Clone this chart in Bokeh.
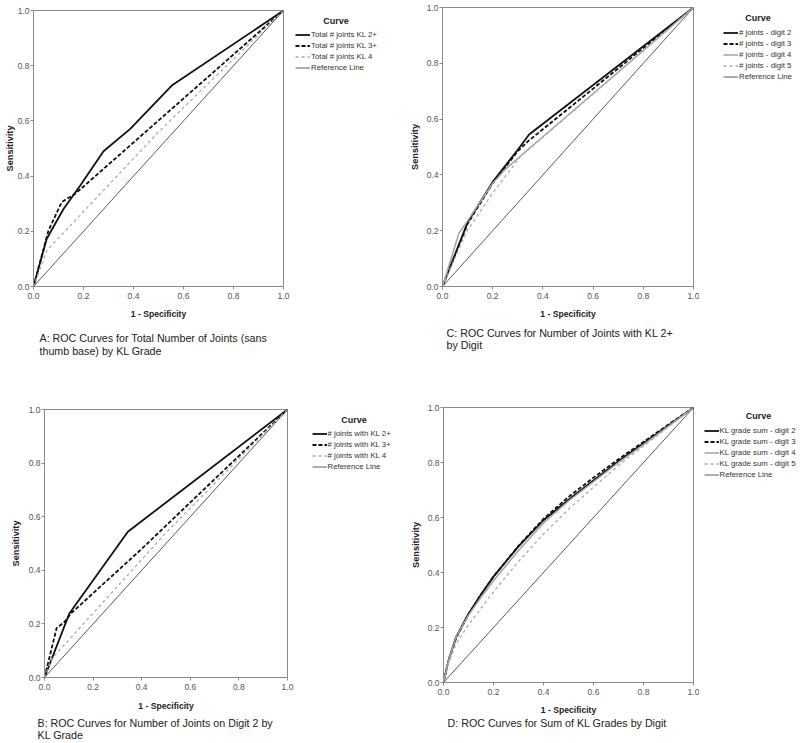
from bokeh.plotting import figure
from bokeh.models import Range1d, Legend, LegendItem, FixedTicker, PrintfTickFormatter, Label
from bokeh.layouts import row, column
from bokeh.embed import file_html
from bokeh.resources import INLINE

FONT = "Liberation Sans"

# ---------------- data ----------------
ticks = [0.0, 0.2, 0.4, 0.6, 0.8, 1.0]
ref_x = [0.0, 1.0]
ref_y = [0.0, 1.0]

# Panel A: total number of joints (sans thumb base) by KL grade
a_kl2_x = [0, 0.053, 0.12, 0.187, 0.28, 0.387, 0.553, 1]
a_kl2_y = [0, 0.173, 0.281, 0.366, 0.49, 0.571, 0.728, 1]
a_kl3_x = [0, 0.06, 0.113, 0.167, 1]
a_kl3_y = [0, 0.203, 0.306, 0.336, 1]
a_kl4_x = [0, 0.053, 0.5, 1]
a_kl4_y = [0, 0.13, 0.56, 1]
a_labels = ["Total # joints KL 2+", "Total # joints KL 3+", "Total # joints KL 4", "Reference Line"]

# Panel C: number of joints with KL 2+ by digit
c_d2_x = [0, 0.1, 0.2, 0.3, 0.345, 1]
c_d2_y = [0, 0.23, 0.375, 0.49, 0.545, 1]
c_d3_x = [0, 0.1, 0.2, 0.3, 0.34, 1]
c_d3_y = [0, 0.225, 0.37, 0.485, 0.52, 1]
c_d4_x = [0, 0.065, 0.1, 0.2, 0.25, 0.32, 1]
c_d4_y = [0, 0.19, 0.235, 0.37, 0.42, 0.475, 1]
c_d5_x = [0, 0.095, 0.2, 0.31, 1]
c_d5_y = [0, 0.195, 0.335, 0.465, 1]
c_labels = ["# joints - digit 2", "# joints - digit 3", "# joints - digit 4", "# joints - digit 5", "Reference Line"]

# Panel B: number of joints on digit 2 by KL grade
b_kl2_x = [0, 0.103, 0.343, 1]
b_kl2_y = [0, 0.24, 0.544, 1]
b_kl3_x = [0, 0.05, 0.08, 0.11, 0.4, 1]
b_kl3_y = [0, 0.185, 0.205, 0.24, 0.48, 1]
b_kl4_x = [0, 0.03, 0.5, 1]
b_kl4_y = [0, 0.07, 0.54, 1]
b_labels = ["# joints with KL 2+", "# joints with KL 3+", "# joints with KL 4", "Reference Line"]

# Panel D: sum of KL grades by digit
d_x = [0, 0.02, 0.05, 0.1, 0.15, 0.2, 0.3, 0.4, 0.5, 0.6, 0.7, 0.8, 0.9, 1]
d_d2_y = [0, 0.08, 0.165, 0.25, 0.32, 0.385, 0.495, 0.59, 0.665, 0.735, 0.805, 0.87, 0.935, 1]
d_d3_y = [0, 0.08, 0.16, 0.248, 0.32, 0.385, 0.497, 0.595, 0.675, 0.745, 0.812, 0.875, 0.938, 1]
d_d4_y = [0, 0.08, 0.165, 0.245, 0.31, 0.37, 0.48, 0.58, 0.66, 0.73, 0.8, 0.865, 0.932, 1]
d_d5_y = [0, 0.07, 0.14, 0.21, 0.27, 0.33, 0.44, 0.54, 0.63, 0.71, 0.79, 0.86, 0.93, 1]
d_labels = ["KL grade sum - digit 2", "KL grade sum - digit 3", "KL grade sum - digit 4", "KL grade sum - digit 5", "Reference Line"]

captions = {
    "A": ["A: ROC Curves for Total Number of Joints (sans", "thumb base) by KL Grade"],
    "C": ["C:  ROC Curves for Number of Joints with KL 2+", "by Digit"],
    "B": ["B: ROC Curves for Number of Joints on Digit 2 by", "KL Grade"],
    "D": ["D:  ROC Curves for Sum of KL Grades by Digit"],
}

# ---------------- styles ----------------
STY = {
    "black": dict(line_color="#111111", line_width=1.8),
    "black_dash": dict(line_color="#111111", line_width=1.8, line_dash="4 2"),
    "gray": dict(line_color="#a2a2a2", line_width=1.5),
    "gray_dash": dict(line_color="#ababab", line_width=1.3, line_dash="3 3"),
    "ref": dict(line_color="#5a5a5a", line_width=1.0),
}


def bare(w, h, top=0, bottom=0, xr=None, yr=None):
    f = figure(width=w, height=h, x_range=xr, y_range=yr,
               min_border_left=0, min_border_right=0,
               min_border_top=top, min_border_bottom=bottom,
               x_axis_location=None, y_axis_location=None,
               title=None, tools="", toolbar_location=None, output_backend="svg")
    f.grid.visible = False
    f.outline_line_color = None
    f.background_fill_color = "white"
    f.border_fill_color = "white"
    return f


def make_panel(P, Lw, series, labels, xlab_s, ylab_s, leg, cap):
    pw = P["left"] + P["fw"] + P["right"]
    ph = P["top"] + P["fh"] + P["bottom"]
    p = figure(width=pw, height=ph, x_range=Range1d(0, 1), y_range=Range1d(0, 1),
               min_border_left=P["left"], min_border_right=P["right"],
               min_border_top=P["top"], min_border_bottom=P["bottom"],
               title=None, tools="", toolbar_location=None, output_backend="svg")
    p.xgrid.visible = False
    p.ygrid.visible = False
    p.outline_line_color = "#8a8a8a"
    p.background_fill_color = "white"
    p.border_fill_color = "white"
    for ax in (p.xaxis[0], p.yaxis[0]):
        ax.ticker = FixedTicker(ticks=ticks)
        ax.formatter = PrintfTickFormatter(format="%.1f")
        ax.axis_line_color = "#8a8a8a"
        ax.major_tick_line_color = "#8a8a8a"
        ax.major_tick_out = 3
        ax.major_tick_in = 0
        ax.minor_tick_line_color = None
        ax.major_label_text_font = FONT
        ax.major_label_text_font_size = "8.5px"
        ax.major_label_text_color = "#555555"
        ax.axis_label_text_font = FONT
        ax.axis_label_text_font_style = "bold"
        ax.axis_label_text_color = "#222222"
    p.xaxis[0].major_label_standoff = 3
    p.yaxis[0].major_label_standoff = 1
    p.xaxis[0].axis_label = "1 - Specificity"
    p.xaxis[0].axis_label_text_font_size = "8.6px"
    p.xaxis[0].axis_label_standoff = xlab_s
    p.yaxis[0].axis_label = "Sensitivity"
    p.yaxis[0].axis_label_text_font_size = "9.2px"
    p.yaxis[0].axis_label_standoff = ylab_s

    p.line(ref_x, ref_y, **STY["ref"])
    for (xs, ys, sty) in series:
        p.line(xs, ys, **STY[sty])

    # ---- legend panel to the right: its frame has the same top/bottom as the plot ----
    fb_local = P["top"] + P["fh"]
    L = bare(Lw, ph, top=P["top"], bottom=P["bottom"],
             xr=Range1d(0, Lw), yr=Range1d(fb_local, P["top"]))
    items = []
    for (xs, ys, sty), lab in zip(series + [(ref_x, ref_y, "ref")], labels):
        r = L.line(xs, ys, visible=False, **STY[sty])
        items.append(LegendItem(label=lab, renderers=[r]))
    n = len(items)
    row_h = 11
    leg_bottom = leg["first"] - row_h / 2 + n * row_h
    legend = Legend(items=items, location=(leg["left"], fb_local - leg_bottom),
                    glyph_width=15, glyph_height=row_h, label_height=row_h,
                    label_standoff=1, spacing=0, padding=0, margin=0,
                    border_line_color=None, background_fill_alpha=0,
                    inactive_fill_alpha=0,
                    label_text_font=FONT, label_text_font_size="7.8px",
                    label_text_color="#333333")
    L.add_layout(legend)
    L.add_layout(Label(x=leg["curve"][0], y=leg["curve"][1], text="Curve",
                       text_font=FONT, text_font_size="9px", text_font_style="bold",
                       text_color="#222222", text_align="center", text_baseline="middle"))

    # ---- caption below ----
    cw = pw + Lw
    C = bare(cw, cap["h"], xr=Range1d(0, cw), yr=Range1d(cap["h"], 0))
    for line, yy in zip(cap["lines"], cap["ys"]):
        C.add_layout(Label(x=cap["x"], y=yy, text=line,
                           text_font=FONT, text_font_size="10.7px",
                           text_color="#222222", text_align="left", text_baseline="middle"))
    return column(row(p, L), C)


# geometry (pixels); the page content starts at the top-left corner
PA = dict(left=33, fw=250, right=8, top=10, fh=276, bottom=35)
PC = dict(left=42, fw=251, right=6, top=7, fh=279, bottom=35)
PB = dict(left=44, fw=243, right=8, top=39, fh=269, bottom=35)
PD = dict(left=43, fw=250, right=6, top=37, fh=276, bottom=34)

panA = make_panel(PA, 109,
                  [(a_kl2_x, a_kl2_y, "black"), (a_kl3_x, a_kl3_y, "black_dash"),
                   (a_kl4_x, a_kl4_y, "gray_dash")],
                  a_labels, 7, 0,
                  dict(left=4, first=34, curve=(44.5, 20)),
                  dict(h=49, x=39, ys=[16, 29], lines=captions["A"]))
panC = make_panel(PC, 101,
                  [(c_d2_x, c_d2_y, "black"), (c_d3_x, c_d3_y, "black_dash"),
                   (c_d4_x, c_d4_y, "gray"), (c_d5_x, c_d5_y, "gray_dash")],
                  c_labels, 7, 4,
                  dict(left=24, first=32.3, curve=(58.5, 17)),
                  dict(h=49, x=46, ys=[11, 23.5], lines=captions["C"]))
panB = make_panel(PB, 105,
                  [(b_kl2_x, b_kl2_y, "black"), (b_kl3_x, b_kl3_y, "black_dash"),
                   (b_kl4_x, b_kl4_y, "gray_dash")],
                  b_labels, 8, 5,
                  dict(left=16.5, first=64, curve=(58.5, 50)),
                  dict(h=28, x=37, ys=[9, 21], lines=captions["B"]))
panD = make_panel(PD, 101,
                  [(d_x, d_d2_y, "black"), (d_x, d_d3_y, "black_dash"),
                   (d_x, d_d4_y, "gray"), (d_x, d_d5_y, "gray_dash")],
                  d_labels, 7, 4,
                  dict(left=4.5, first=61.5, curve=(59, 46)),
                  dict(h=24, x=47, ys=[5.5], lines=captions["D"]))

layout = column(row(panA, panC), row(panB, panD))
open("out.html", "w").write(file_html(layout, INLINE))
